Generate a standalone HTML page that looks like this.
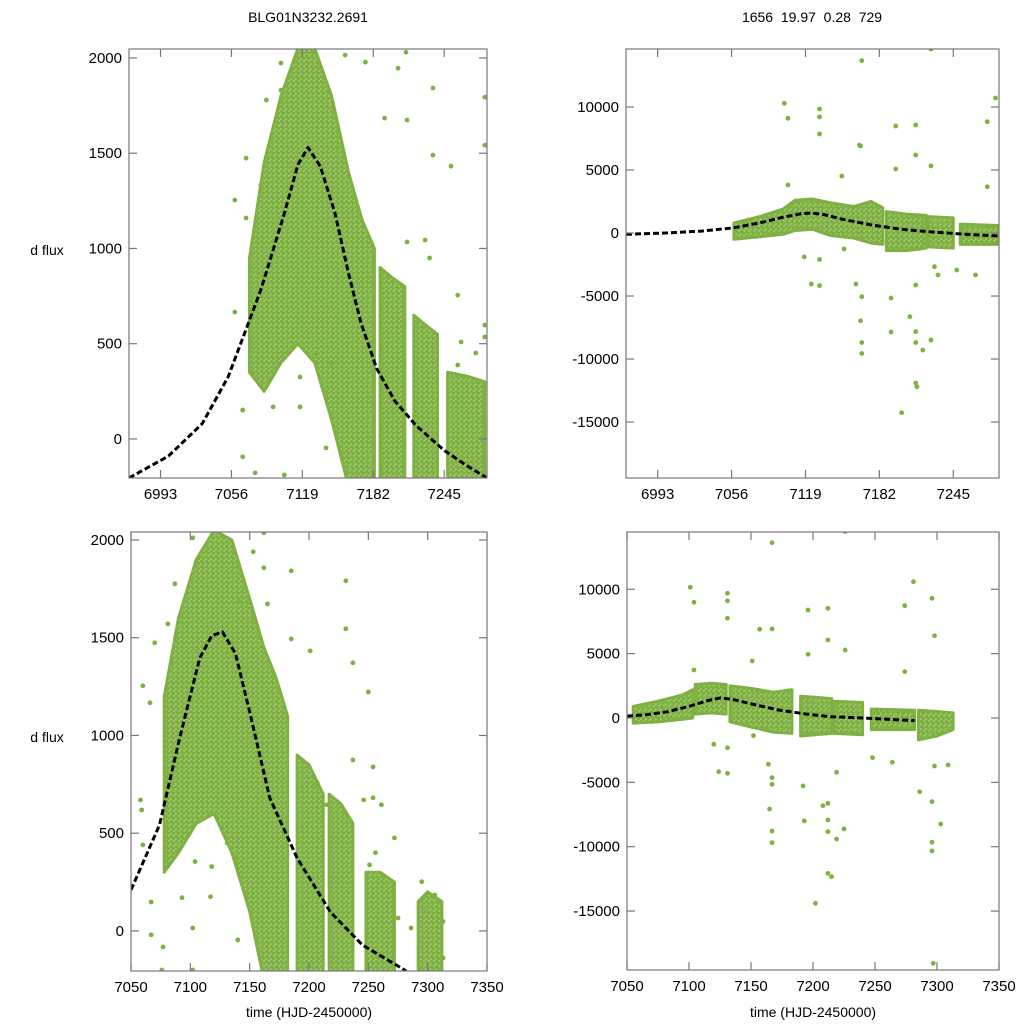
<!DOCTYPE html>
<html><head><meta charset="utf-8"><style>
html,body{margin:0;padding:0;background:#fff;}
svg{display:block;font-family:"Liberation Sans",sans-serif;}
</style></head><body>
<svg id="fig" width="1024" height="1024" viewBox="0 0 1024 1024" xmlns="http://www.w3.org/2000/svg">
<defs>
<pattern id="dots" width="5" height="5" patternUnits="userSpaceOnUse">
<rect x="0" y="0" width="5" height="5" fill="#a6cb7d"/>
<circle cx="1.25" cy="1.25" r="2.2" fill="#7fb142"/>
<circle cx="3.75" cy="3.75" r="2.2" fill="#7fb142"/>
</pattern>
</defs>
<text x="308" y="22" text-anchor="middle" font-size="14">BLG01N3232.2691</text>
<text x="812" y="22" text-anchor="middle" font-size="14" xml:space="preserve">1656  19.97  0.28  729</text>
<text x="47" y="255" text-anchor="middle" font-size="14">d flux</text>
<text x="47" y="742" text-anchor="middle" font-size="14">d flux</text>
<text x="309" y="1017" text-anchor="middle" font-size="14">time (HJD-2450000)</text>
<text x="813" y="1017" text-anchor="middle" font-size="14">time (HJD-2450000)</text>
</svg>
<script>
// ---------- Panel A (top-left) ----------
const aXTicks = [6993, 7056, 7119, 7182, 7245];
const aYTicks = [0, 500, 1000, 1500, 2000];
const aCurveT = [6965, 7000, 7030, 7053, 7082, 7103, 7115, 7124, 7135, 7148, 7160, 7171, 7185, 7201, 7220, 7245, 7265, 7283];
const aCurveF = [-205, -90, 80, 325, 780, 1185, 1440, 1530, 1430, 1185, 870, 610, 370, 200, 70, -60, -140, -205];
const aBandT  = [7072,7085,7100,7115,7130,7145,7160,7172,7183,null,7188,7198,7210,null,7218,7228,7239,null,7248,7265,7281];
const aBandLo = [350,250,400,500,400,100,-250,-250,-250,null,-250,-250,-250,null,-250,-250,-250,null,-250,-250,-250];
const aBandHi = [950,1450,1800,2050,2050,1800,1400,1150,1000,null,900,850,800,null,650,600,550,null,350,330,300];
const aPtT = [7059,7069,7087,7100,7175,7211,7235,7235,7251,7281,7281,7066,7066,7077,7093,7103,7117,7117,7131,7140,7144,7059,7069,7192,7204,7212,7228,7232,7257,7260,7281,7281,7273,7257,7212,7082,7100,7157];
const aPtF = [1254,1474,1779,1973,1978,2030,1842,1490,1432,1794,1542,152,-94,-178,168,-189,325,168,451,-47,399,666,1160,1684,1946,1674,1044,950,755,509,598,535,451,388,1034,1333,1831,2015];

// ---------- Panel B (top-right) ----------
const bXTicks = [6993, 7056, 7119, 7182, 7245];
const bYTicks = [-15000, -10000, -5000, 0, 5000, 10000];
const bCurveT = [6966, 7000, 7030, 7057, 7080, 7100, 7115, 7124, 7135, 7150, 7176, 7200, 7227, 7255, 7284];
const bCurveF = [-100, 0, 150, 400, 800, 1250, 1520, 1590, 1450, 1100, 630, 300, 80, -100, -240];
const bBandT  = [7058,7080,7100,7110,7125,7140,7160,7175,7185,null,7188,7205,7222,null,7224,7245,null,7251,7284];
const bBandLo = [-500,-300,-100,200,300,-200,-400,-800,-900,null,-1400,-1400,-1200,null,-1100,-1200,null,-900,-900];
const bBandHi = [800,1300,1900,2600,2700,2400,2100,2500,2000,null,1700,1500,1400,null,1300,1200,null,700,600];
const bPtT = [7101,7104,7131,7131,7131,7167,7226,7281,7274,7196,7213,7165,7166,7213,7196,7226,7274,7104,7150,7118,7124,7131,7131,7152,7162,7167,7166,7167,7167,7192,7192,7201,7208,7213,7213,7213,7214,7219,7226,7232,7248,7264,7213,7229];
const bPtF = [10290,9100,9840,9210,7860,13680,14600,10710,8830,8490,8570,6980,6900,6190,5080,5320,3670,3810,4520,-1900,-4050,-4170,-2100,-1270,-4050,-5050,-6960,-8690,-9560,-5160,-7860,-14260,-6640,-7830,-8690,-11900,-12200,-9290,-8490,-3330,-2940,-3330,-4130,-2670];

// ---------- Panel C (bottom-left) ----------
const cXTicks = [7050, 7100, 7150, 7200, 7250, 7300, 7350];
const cYTicks = [0, 500, 1000, 1500, 2000];
const cCurveT = [7050, 7074, 7091, 7108, 7118, 7127, 7138, 7150, 7167, 7190, 7218, 7245, 7282];
const cCurveF = [210, 542, 988, 1397, 1510, 1530, 1420, 1120, 680, 373, 97, -72, -205];
const cBandT  = [7078,7090,7105,7120,7135,7150,7162,7172,7182,null,7190,7200,7212,null,7217,7227,7237,null,7248,7260,7272,null,7292,7300,7312];
const cBandLo = [300,400,550,600,400,100,-250,-250,-250,null,-250,-250,-250,null,-250,-250,-250,null,-250,-250,-250,null,-250,-250,-250];
const cBandHi = [1200,1600,1900,2050,2000,1700,1450,1300,1100,null,900,850,700,null,700,650,550,null,300,300,250,null,150,200,150];
const cPtT = [7060,7066,7070,7081,7087,7102,7162,7153,7142,7162,7165,7185,7185,7201,7231,7231,7237,7250,7237,7254,7246,7254,7207,7215,7229,7058,7059,7060,7067,7067,7076,7077,7093,7102,7102,7117,7118,7131,7138,7140,7104,7295,7299,7295,7306,7313,7313,7286,7275,7272,7261,7256,7251];
const cPtF = [1254,1167,1474,1571,1776,2011,2037,1940,1684,1858,1673,1842,1494,1433,1791,1546,1372,1223,875,839,670,681,757,645,604,670,619,440,148,-20,-200,-82,170,15,-200,175,329,450,380,-46,355,252,99,-190,184,48,-138,15,66,476,645,400,338];

// ---------- Panel D (bottom-right) ----------
const dXTicks = [7050, 7100, 7150, 7200, 7250, 7300, 7350];
const dYTicks = [-15000, -10000, -5000, 0, 5000, 10000];
const dCurveT = [7050, 7065, 7082, 7100, 7115, 7125, 7135, 7150, 7172, 7195, 7214, 7240, 7260, 7282];
const dCurveF = [150, 250, 470, 900, 1350, 1550, 1450, 1100, 620, 300, 100, 0, -100, -200];
const dBandT  = [7055,7075,7095,7103,null,7105,7118,7130,null,7133,7150,7168,7183,null,7190,7215,null,7217,7240,null,7247,7282,null,7285,7300,7313];
const dBandLo = [-400,-300,-100,0,null,300,400,300,null,-300,-700,-1100,-1200,null,-1400,-1200,null,-1200,-1300,null,-900,-900,null,-1700,-1400,-900];
const dBandHi = [900,1300,1800,2200,null,2600,2700,2600,null,2500,2300,2000,2200,null,1700,1500,null,1300,1200,null,700,600,null,600,500,400];
const dPtT = [7101,7104,7131,7131,7131,7167,7226,7281,7274,7296,7298,7196,7212,7167,7157,7212,7196,7226,7274,7104,7151,7120,7124,7131,7131,7152,7164,7167,7167,7165,7167,7167,7192,7193,7202,7208,7212,7212,7212,7212,7215,7219,7225,7286,7296,7296,7296,7303,7297,7309,7298,7248,7264,7219];
const dPtF = [10160,8990,9690,9100,7750,13620,14480,10590,8730,9300,6390,8390,8520,6920,6900,6060,4950,5280,3600,3730,4430,-2040,-4170,-4300,-2310,-1370,-3600,-4640,-5150,-7070,-8780,-9690,-5280,-8000,-14400,-6810,-6630,-7920,-8830,-12070,-12330,-9400,-8620,-5730,-6500,-9660,-10330,-8240,-19060,-3650,-3730,-3080,-3440,-4220];

const NS = 'http://www.w3.org/2000/svg';
const svg = document.getElementById('fig');
const GREEN = '#7fb142';

function mk(tag, attrs, parent) {
  const e = document.createElementNS(NS, tag);
  for (const k in attrs) e.setAttribute(k, attrs[k]);
  (parent || svg).appendChild(e);
  return e;
}

function drawPanel(id, box, xDom, yDom, xTicks, yTicks, curveT, curveF, bandT, bandLo, bandHi, ptT, ptF) {
  const sx = v => box.x0 + (v - xDom[0]) / (xDom[1] - xDom[0]) * (box.x1 - box.x0);
  const sy = v => box.y1 - (v - yDom[0]) / (yDom[1] - yDom[0]) * (box.y1 - box.y0);
  const g = mk('g', {});
  
  
  const clip = mk('clipPath', {id: id + '-clip'}, g);
  mk('rect', {x: box.x0, y: box.y0, width: box.x1 - box.x0, height: box.y1 - box.y0}, clip);
  const plot = mk('g', {'clip-path': 'url(#' + id + '-clip)'}, g);
  
  
  let seg = [];
  const flush = () => {
    if (seg.length > 1) {
      const top = seg.map(i => sx(bandT[i]) + ',' + sy(bandHi[i]));
      const bot = seg.slice().reverse().map(i => sx(bandT[i]) + ',' + sy(bandLo[i]));
      const p = mk('polygon', {points: top.concat(bot).join(' '), fill: 'url(#dots)', stroke: GREEN, 'stroke-width': 3, 'stroke-linejoin': 'round'}, plot);
      
      
    }
    seg = [];
  };
  for (let i = 0; i < bandT.length; i++) {
    if (bandT[i] === null) flush(); else seg.push(i);
  }
  flush();
  for (let i = 0; i < ptT.length; i++) {
    const c = mk('circle', {cx: sx(ptT[i]), cy: sy(ptF[i]), r: 2.4, fill: GREEN}, plot);
    
    
  }
  const d = curveT.map((t, i) => (i ? 'L' : 'M') + sx(t).toFixed(1) + ',' + sy(curveF[i]).toFixed(1)).join(' ');
  const path = mk('path', {d: d, fill: 'none', stroke: '#000', 'stroke-width': 3, 'stroke-dasharray': '6,3', 'stroke-linejoin': 'round'}, plot);
  
  
  const fr = mk('rect', {x: box.x0, y: box.y0, width: box.x1 - box.x0, height: box.y1 - box.y0, fill: 'none', stroke: '#777', 'stroke-width': 1.2}, g);
  
  
  xTicks.forEach(v => {
    const x = sx(v);
    mk('line', {x1: x, x2: x, y1: box.y1, y2: box.y1 - 8, stroke: '#777', 'stroke-width': 1.2}, g);
    mk('line', {x1: x, x2: x, y1: box.y0, y2: box.y0 + 8, stroke: '#777', 'stroke-width': 1.2}, g);
    const t = mk('text', {x: x, y: box.y1 + 21, 'text-anchor': 'middle', 'font-size': 15}, g);
    t.textContent = v;
    
    
  });
  yTicks.forEach(v => {
    const y = sy(v);
    mk('line', {x1: box.x0, x2: box.x0 + 8, y1: y, y2: y, stroke: '#777', 'stroke-width': 1.2}, g);
    mk('line', {x1: box.x1, x2: box.x1 - 8, y1: y, y2: y, stroke: '#777', 'stroke-width': 1.2}, g);
    const t = mk('text', {x: box.x0 - 7, y: y + 5, 'text-anchor': 'end', 'font-size': 15}, g);
    t.textContent = v;
    
    
  });
}

drawPanel('top-left', {x0: 129, x1: 487, y0: 49, y1: 478}, [6965, 7283], [-205, 2047], aXTicks, aYTicks, aCurveT, aCurveF, aBandT, aBandLo, aBandHi, aPtT, aPtF);
drawPanel('top-right', {x0: 626, x1: 999, y0: 49, y1: 478}, [6966, 7284], [-19440, 14600], bXTicks, bYTicks, bCurveT, bCurveF, bBandT, bBandLo, bBandHi, bPtT, bPtF);
drawPanel('bottom-left', {x0: 131, x1: 487, y0: 532, y1: 971}, [7050, 7350], [-205, 2041], cXTicks, cYTicks, cCurveT, cCurveF, cBandT, cBandLo, cBandHi, cPtT, cPtF);
drawPanel('bottom-right', {x0: 627, x1: 999, y0: 532, y1: 970}, [7050, 7350], [-19580, 14450], dXTicks, dYTicks, dCurveT, dCurveF, dBandT, dBandLo, dBandHi, dPtT, dPtF);
</script>
</body></html>
